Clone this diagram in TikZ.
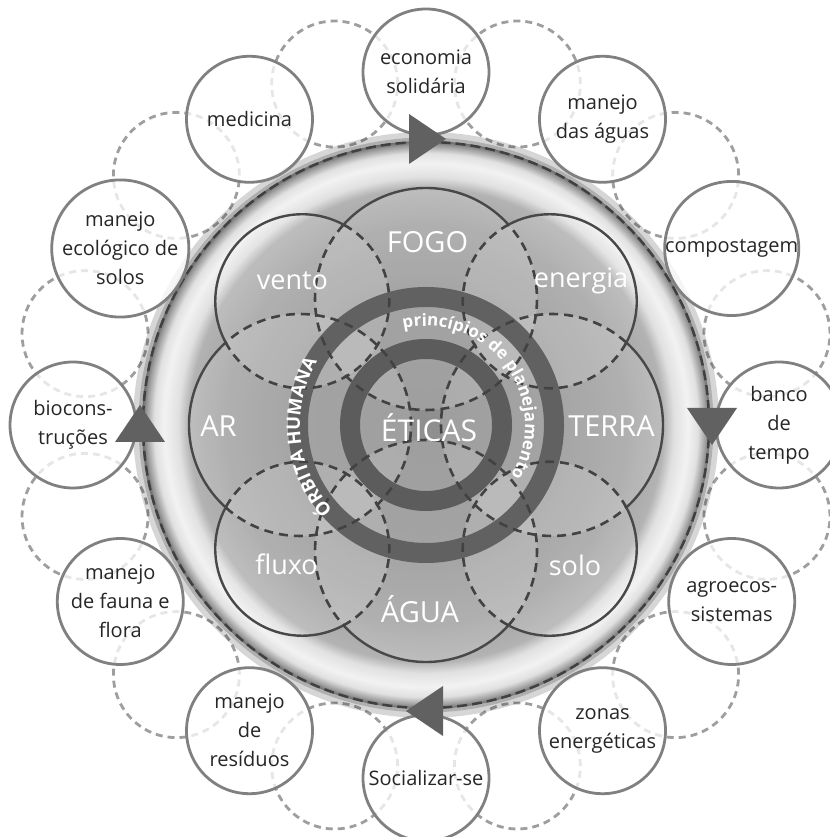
\documentclass[tikz,border=0pt]{standalone}
\usepackage{fontspec}
\setmainfont{Open Sans}
\usepackage{tikz}
\usetikzlibrary{decorations.text}
\definecolor{linegray}{RGB}{72,72,72}
\definecolor{rimgray}{RGB}{64,64,64}
\pgfdeclareradialshading{discshade}{\pgfpointorigin}{%
  color(0bp)=(black!44);
  color(10.56bp)=(black!42);
  color(17.6bp)=(black!36);
  color(20.86bp)=(black!30);
  color(21.83bp)=(black!12);
  color(23.06bp)=(black!5);
  color(23.94bp)=(black!12);
  color(24.65bp)=(black!40);
  color(25bp)=(black!58);
  color(50bp)=(black!58)}
\tikzset{
  topic/.style={circle,draw=black!50,line width=2.8pt,fill=white,fill opacity=0.75,
    text opacity=1,minimum size=126pt,inner sep=0pt,align=center,text=black!85,
    font=\fontsize{20}{29}\selectfont},
  halo/.style={draw=black!38,line width=2.8pt,dash pattern=on 7pt off 5pt},
  elem/.style={anchor=base,text=white,font=\fontsize{29}{29}\selectfont},
  subelem/.style={anchor=base,text=white,font=\fontsize{27}{27}\selectfont},
  petal/.style={draw=linegray,line width=2.4pt},
  petaldash/.style={draw=black!74,line width=2.6pt,dash pattern=on 9pt off 6pt},
  rimarrow/.style={fill=black!62}
}

\begin{document}
\begin{tikzpicture}[x=1pt,y=1pt]
  \useasboundingbox (0,0) rectangle (829,837);
  \begin{scope}[shift={(426,412)}]
  % 外圈虚线圆
  \foreach \a in {75,45,...,-255}
    \draw[halo] (\a:353) circle[radius=63];

  % 大圆盘
  \draw[black,opacity=0.16,line width=12pt] (0,0) circle[radius=287];
  \draw[black,opacity=0.18,line width=5pt] (0,0) circle[radius=285];
  \shade[shading=discshade] (0,0) circle[radius=284];

  % 八个花瓣圆
  \foreach \a in {0,90,180,270}
    \fill[white,fill opacity=0.14] (\a:126) circle[radius=111];
  \foreach \a in {45,135,225,315}
    \fill[white,fill opacity=0.14] (\a:175) circle[radius=87];

  % 两个深色环
  \draw[black!62,line width=20pt] (0,0) circle[radius=128];
  \draw[black!64,line width=20pt] (0,0) circle[radius=76];

  % 花瓣轮廓：外侧实线，内侧虚线
  \foreach \a in {0,90,180,270}{
    \draw[petal,shift={(\a:126)}] (\a-48.1:111)
      arc[start angle=\a-48.1,end angle=\a+48.1,radius=111];
    \draw[petaldash,shift={(\a:126)}] (\a+48.1:111)
      arc[start angle=\a+48.1,end angle=\a+311.9,radius=111];
  }
  \foreach \a in {45,135,225,315}{
    \draw[petal,shift={(\a:175)}] (\a-72.9:87)
      arc[start angle=\a-72.9,end angle=\a+72.9,radius=87];
    \draw[petaldash,shift={(\a:175)}] (\a+72.9:87)
      arc[start angle=\a+72.9,end angle=\a+287.1,radius=87];
  }

  % 环上的文字
  \path[decorate,decoration={text along path,text align=center,text color=white,
      text={|\fontsize{17}{17}\selectfont\bfseries|princípios de planejamento}}]
    (116:99) arc[start angle=116,end angle=-44,radius=99];
  \path[decorate,decoration={text along path,text align=center,text color=white,
      text={|\fontsize{18.5}{18.5}\selectfont\bfseries|ÓRBITA HUMANA}}]
    (236:126) arc[start angle=236,end angle=136,radius=126];

  % 中心与元素
  \node[anchor=base,text=white,font=\fontsize{30}{30}\selectfont] (eticas) at (3,-17) {ÉTICAS};
  \node[elem] (fogo) at (1.5,172) {FOGO};
  \node[elem] (terra) at (185.5,-12) {TERRA};
  \node[elem] (ar) at (-207.5,-12) {AR};
  \node[elem] (agua) at (-6,-198) {ÁGUA};
  \node[subelem] (vento) at (-133.5,135) {vento};
  \node[subelem] (energia) at (155,137) {energia};
  \node[subelem] (solo) at (149,-151) {solo};
  \node[subelem] (fluxo) at (-139.5,-150) {fluxo};

  % 圆盘虚线边
  \draw[rimgray,line width=2.5pt,dash pattern=on 10pt off 5pt] (0,0) circle[radius=283];

  % 外圈实线圆
  \node[topic] (eco) at (90:353) {economia\\solidária};
  \node[topic] (aguas) at (60:353) {manejo\\das águas};
  \node[topic] (compost) at (30:353) {compostagem};
  \node[topic] (banco) at (0:353) {banco\\de\\tempo};
  \node[topic] (agro) at (-30:353) {agroecos-\\sistemas};
  \node[topic] (zonas) at (-60:353) {zonas\\energéticas};
  \node[topic] (social) at (-90:353) {Socializar-se};
  \node[topic] (residuos) at (-120:353) {manejo\\de\\resíduos};
  \node[topic] (fauna) at (-150:353) {manejo\\de fauna e\\flora};
  \node[topic] (biocons) at (180:353) {biocons-\\truções};
  \node[topic] (solos) at (150:353) {manejo\\ecológico de\\solos};
  \node[topic] (medicina) at (120:353) {medicina};

  % 顺时针箭头
  \foreach \a in {0,90,180,270}
    \fill[rimarrow,rotate=\a] (286,-20) -- (311,17) -- (261,17) -- cycle;
  \end{scope}
\end{tikzpicture}
\end{document}
